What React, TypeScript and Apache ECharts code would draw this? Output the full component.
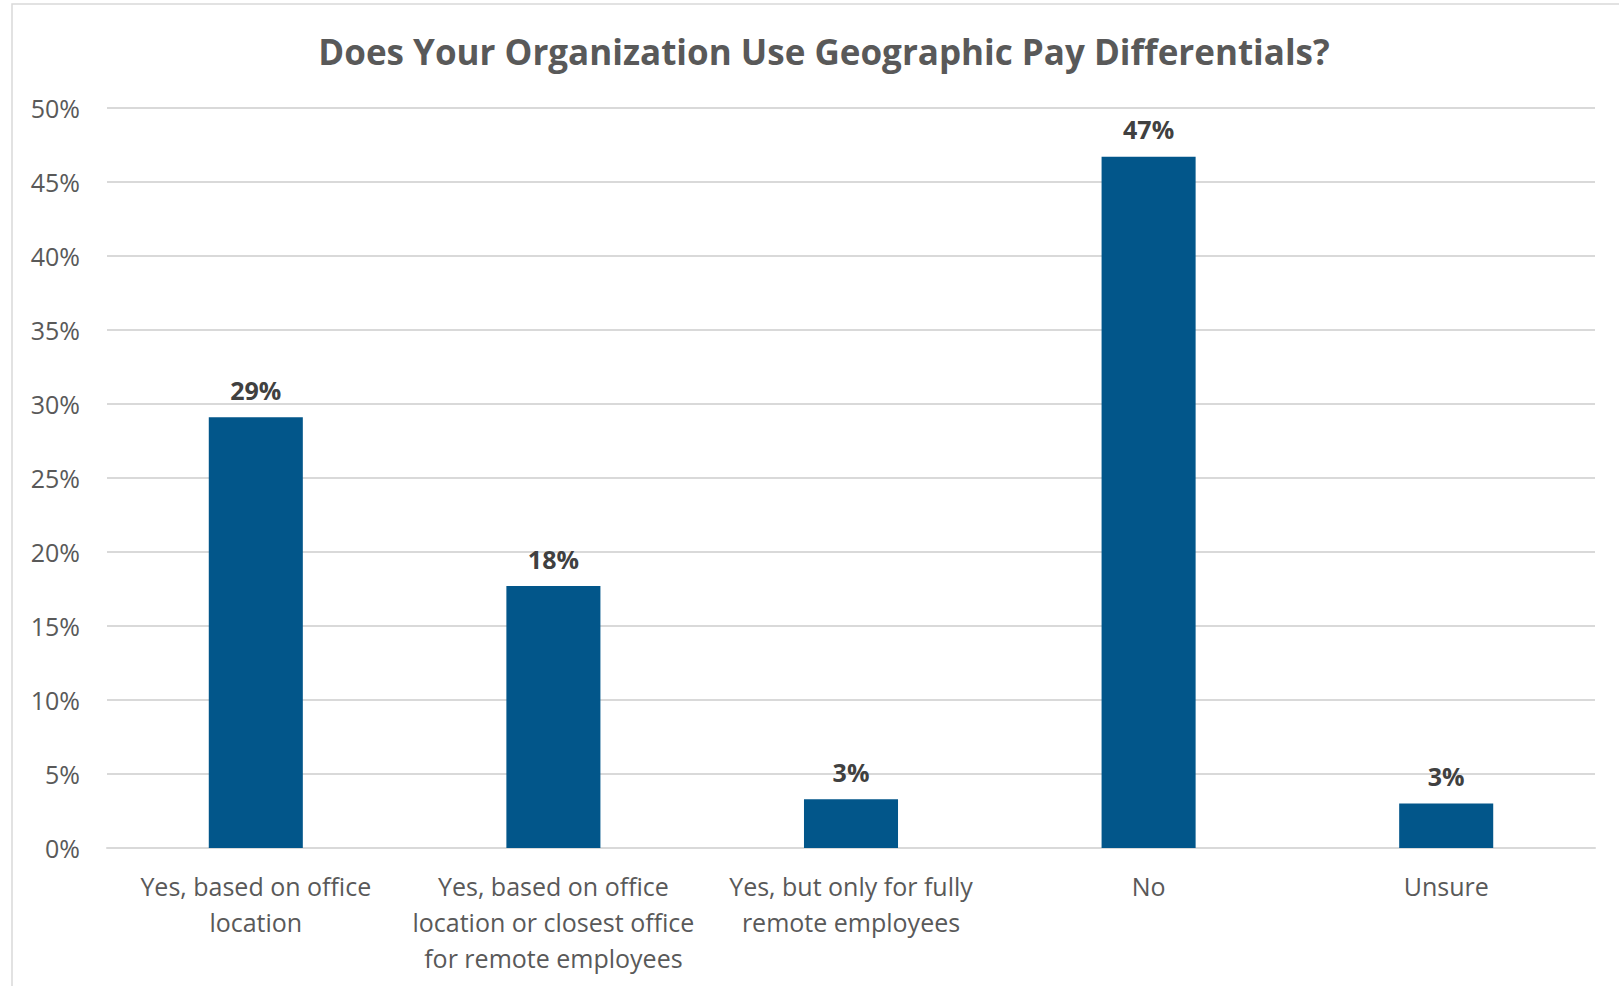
import React, { useEffect, useRef } from "react";
import * as echarts from "echarts";

const TITLE = "Does Your Organization Use Geographic Pay Differentials?";
const categories = [
  "Yes, based on office\nlocation",
  "Yes, based on office\nlocation or closest office\nfor remote employees",
  "Yes, but only for fully\nremote employees",
  "No",
  "Unsure",
];
const values = [29.1, 17.7, 3.3, 46.7, 3.0];
const yTicks = { min: 0, max: 50, interval: 5 };

const FONT = "'Open Sans', 'Noto Sans', sans-serif";

export default function App() {
  const ref = useRef<HTMLDivElement>(null);
  useEffect(() => {
    document.body.style.margin = "0";
    const chart = echarts.init(ref.current!, null, { renderer: "svg" });
    chart.setOption({
      animation: false,
      backgroundColor: "#ffffff",
      title: {
        text: TITLE,
        left: 819,
        textAlign: "center",
        top: 29,
        textStyle: { fontFamily: FONT, fontSize: 35, fontWeight: "bold", color: "#595959" },
      },
      graphic: [
        {
          type: "rect",
          shape: { x: 12, y: 4, width: 1640, height: 1020 },
          style: { fill: "none", stroke: "#d9d9d9", lineWidth: 1.5 },
          silent: true,
        },
      ],
      grid: { left: 107, right: 24, top: 108, bottom: 138, containLabel: false },
      xAxis: {
        type: "category",
        data: categories,
        axisLine: { show: true, lineStyle: { color: "#d9d9d9", width: 2 } },
        axisTick: { show: false },
        axisLabel: {
          interval: 0,
          margin: 20,
          fontFamily: FONT,
          fontSize: 25,
          lineHeight: 36,
          color: "#595959",
          verticalAlign: "top",
        },
      },
      yAxis: {
        type: "value",
        min: yTicks.min,
        max: yTicks.max,
        interval: yTicks.interval,
        axisLine: { show: false },
        axisTick: { show: false },
        splitLine: { lineStyle: { color: "#d9d9d9", width: 2 } },
        axisLabel: {
          formatter: (v: number) => `${v}%`,
          margin: 27,
          fontFamily: FONT,
          fontSize: 25,
          color: "#595959",
        },
      },
      series: [
        {
          type: "bar",
          data: values,
          barWidth: "31.6%",
          itemStyle: { color: "#02568A" },
          label: {
            show: true,
            position: "top",
            distance: 15,
            formatter: (p: any) => `${Math.round(p.value)}%`,
            fontFamily: FONT,
            fontSize: 25,
            fontWeight: "bold",
            color: "#404040",
          },
        },
      ],
    });
    return () => chart.dispose();
  }, []);
  return <div ref={ref} style={{ width: 1619, height: 986 }} />;
}
